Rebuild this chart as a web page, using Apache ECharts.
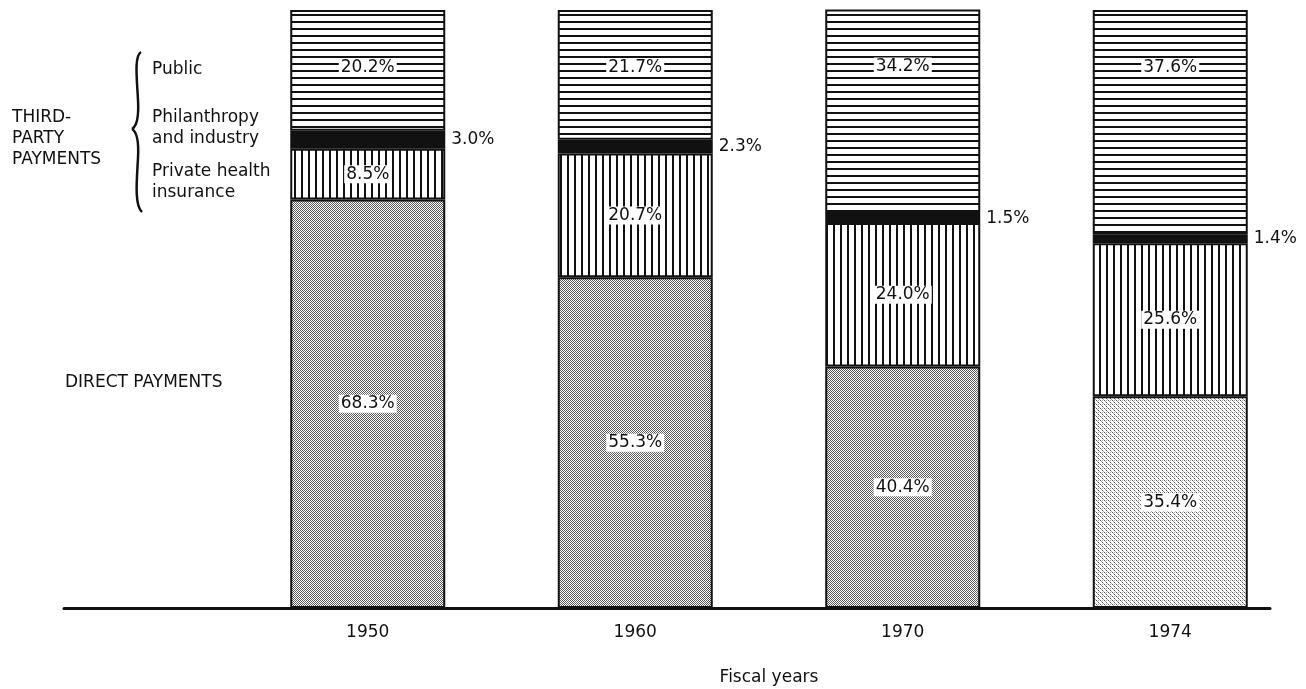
<!DOCTYPE html>
<html>
<head>
<meta charset="utf-8">
<script src="https://cdn.jsdelivr.net/npm/echarts@6/dist/echarts.min.js"></script>
<style>
  html, body { margin: 0; padding: 0; background: #fff; }
  #chart { width: 1306px; height: 689px; }
</style>
</head>
<body>
<div id="chart"></div>
<script>
// share of personal health care spending, by source of payment
const years = ['1950', '1960', '1970', '1974'];
const directPayments = [68.3, 55.3, 40.4, 35.4];
const privateInsurance = [8.5, 20.7, 24.0, 25.6];
const philanthropy = [3.0, 2.3, 1.5, 1.4];
const publicPayments = [20.2, 21.7, 34.2, 37.6];

const INK = '#111';
const FONT = '"DejaVu Sans", Verdana, sans-serif';
const FS = 17;

// small canvas tiles used as fill patterns (print-style hatching)
function makeTile(w, h, draw) {
  const c = document.createElement('canvas');
  c.width = w; c.height = h;
  const ctx = c.getContext('2d');
  ctx.fillStyle = '#fff';
  ctx.fillRect(0, 0, w, h);
  ctx.fillStyle = INK;
  draw(ctx);
  return { image: c, repeat: 'repeat' };
}
const hLines = makeTile(10, 7, (ctx) => ctx.fillRect(0, 0, 10, 2));
const vLines = makeTile(7, 10, (ctx) => ctx.fillRect(0, 0, 2, 10));
const stipple = makeTile(2, 2, (ctx) => {
  ctx.fillStyle = '#5a5a5a';
  ctx.fillRect(0, 0, 1, 1);
  ctx.fillRect(1, 1, 1, 1);
});
// the 1974 screen printed lighter and blotchier
const lightStipple = makeTile(4, 4, (ctx) => {
  ctx.fillStyle = '#555';
  ctx.fillRect(0, 0, 1, 1);
  ctx.fillRect(2, 2, 1, 1);
  ctx.fillStyle = '#aaa';
  ctx.fillRect(2, 0, 1, 1);
  ctx.fillRect(1, 1, 1, 1);
  ctx.fillRect(3, 3, 1, 1);
});

const pct = (p) => p.value.toFixed(1) + '%';
const boxLabel = {
  show: true,
  formatter: pct,
  color: INK,
  fontFamily: FONT,
  fontSize: FS,
  backgroundColor: '#fff',
  padding: [1, 2, 0, 2],
};

const barBase = {
  type: 'bar',
  stack: 'total',
  barWidth: 155,
  xAxisIndex: 0,
  yAxisIndex: 0,
  itemStyle: { borderColor: INK, borderWidth: 2 },
  emphasis: { disabled: true },
};

// the curly brace grouping the third-party sources
const braceStyle = { fill: 'none', stroke: INK, lineWidth: 2.5 };
const brace = [
  [141, 52, 138, 100, 134, 56, 137, 80],
  [138, 100, 132, 129, 139, 118, 137, 126],
  [132, 129, 138, 158, 137, 132, 139, 140],
  [138, 158, 142, 212, 137, 178, 134, 205],
].map((s) => ({
  type: 'bezierCurve',
  shape: { x1: s[0], y1: s[1], x2: s[2], y2: s[3], cpx1: s[4], cpy1: s[5], cpx2: s[6], cpy2: s[7] },
  style: braceStyle,
}));

const txt = (left, top, text) => ({
  type: 'text', left, top,
  style: { text, fill: INK, font: FS + 'px ' + FONT, lineHeight: 21 },
});

const chart = echarts.init(document.getElementById('chart'));
chart.setOption({
  animation: false,
  grid: [
    { left: 234, right: 2, top: 10, bottom: 81, containLabel: false, outerBoundsMode: 'none' },
    // second grid only carries the long baseline under the bars
    { left: 64, right: 36, top: 10, bottom: 81, containLabel: false, outerBoundsMode: 'none' },
  ],
  xAxis: [
    {
      type: 'category',
      gridIndex: 0,
      data: years,
      axisLine: { show: false },
      axisTick: { show: false },
      axisLabel: { color: INK, fontFamily: FONT, fontSize: FS, margin: 16 },
      name: 'Fiscal years',
      nameLocation: 'middle',
      nameGap: 61,
      nameTextStyle: { color: INK, fontFamily: FONT, fontSize: FS },
    },
    {
      type: 'value',
      gridIndex: 1,
      min: 0,
      max: 1,
      axisLine: { show: true, lineStyle: { color: INK, width: 3 } },
      axisTick: { show: false },
      axisLabel: { show: false },
      splitLine: { show: false },
    },
  ],
  yAxis: [
    { type: 'value', gridIndex: 0, min: 0, max: 100, show: false },
    { type: 'value', gridIndex: 1, min: 0, max: 1, show: false },
  ],
  series: [
    Object.assign({}, barBase, {
      name: 'Direct payments',
      data: directPayments.map((v, i) => (years[i] === '1974' ? { value: v, itemStyle: { color: lightStipple } } : v)),
      itemStyle: Object.assign({}, barBase.itemStyle, { color: stipple }),
      label: Object.assign({}, boxLabel, { position: 'inside' }),
    }),
    Object.assign({}, barBase, {
      name: 'Private health insurance',
      data: privateInsurance,
      itemStyle: Object.assign({}, barBase.itemStyle, { color: vLines }),
      label: Object.assign({}, boxLabel, { position: 'inside' }),
    }),
    Object.assign({}, barBase, {
      name: 'Philanthropy and industry',
      data: philanthropy,
      itemStyle: Object.assign({}, barBase.itemStyle, { color: INK }),
      label: {
        show: true,
        position: 'right',
        distance: 6,
        formatter: pct,
        color: INK,
        fontFamily: FONT,
        fontSize: FS,
      },
    }),
    Object.assign({}, barBase, {
      name: 'Public',
      data: publicPayments,
      itemStyle: Object.assign({}, barBase.itemStyle, { color: hLines }),
      label: Object.assign({}, boxLabel, { position: 'insideTop', distance: 48 }),
    }),
  ],
  graphic: [
    txt(12, 107, 'THIRD-\nPARTY\nPAYMENTS'),
    txt(65, 372, 'DIRECT PAYMENTS'),
    txt(152, 59, 'Public'),
    txt(152, 107, 'Philanthropy\nand industry'),
    txt(152, 161, 'Private health\ninsurance'),
  ].concat(brace),
});
</script>
</body>
</html>
